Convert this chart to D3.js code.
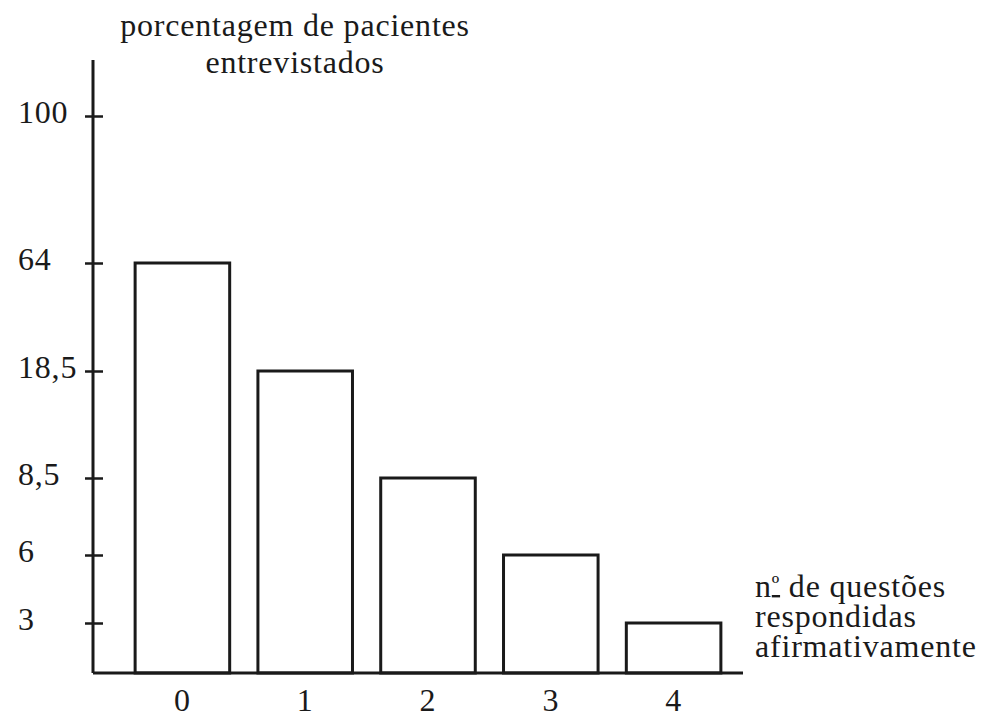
<!DOCTYPE html>
<html>
<head>
<meta charset="utf-8">
<script src="https://cdn.jsdelivr.net/npm/d3@7"></script>
<style>
  body { margin: 0; background: #fff; }
  svg text { font-family: "Liberation Serif", "DejaVu Serif", serif; fill: #1a1a1a; font-size: 32px; letter-spacing: 0.8px; }
</style>
</head>
<body>
<svg id="chart"></svg>
<script>
// dados
const categories = ["0", "1", "2", "3", "4"];
const percentages = [64, 18.5, 8.5, 6, 3];
const yTickValues = [3, 6, 8.5, 18.5, 64, 100];
const yTickLabels = ["3", "6", "8,5", "18,5", "64", "100"];
const yTitle = ["porcentagem de pacientes", "entrevistados"];
const xTitle = ["de questões", "respondidas", "afirmativamente"];

const width = 1001;
const height = 717;
const ink = "#1a1a1a";

const svg = d3.select("#chart")
    .attr("width", width)
    .attr("height", height);

const axisX = 93;      // posição do eixo vertical
const baseY = 673;     // linha de base
const axisTop = 60;

// escala y não linear (o original não está em escala)
const y = d3.scaleLinear()
    .domain([0, 3, 6, 8.5, 18.5, 64, 100])
    .range([baseY, 623, 555, 478, 371, 263, 116]);

const x = d3.scaleBand()
    .domain(categories)
    .range([121, 735])
    .paddingInner(0.23)
    .paddingOuter(0.115);

const data = categories.map((c, i) => ({ key: c, value: percentages[i] }));

// barras
svg.selectAll(".bar")
    .data(data)
    .enter()
    .append("rect")
    .attr("class", "bar")
    .attr("x", d => x(d.key))
    .attr("y", d => y(d.value))
    .attr("width", x.bandwidth())
    .attr("height", d => baseY - y(d.value))
    .attr("fill", "none")
    .attr("stroke", ink)
    .attr("stroke-width", 3);

// eixo y
const yAxis = svg.append("g")
    .attr("transform", `translate(${axisX},0)`)
    .call(d3.axisLeft(y)
        .tickValues(yTickValues)
        .tickSize(8)
        .tickFormat((d, i) => yTickLabels[i]));

yAxis.select(".domain").remove();
yAxis.selectAll(".tick line")
    .attr("x1", 10)
    .attr("x2", -8)
    .attr("stroke", ink)
    .attr("stroke-width", 2.5);
yAxis.selectAll(".tick text")
    .attr("x", 18 - axisX)
    .attr("dy", "0.2em")
    .attr("text-anchor", "start")
    .attr("font-size", null)
    .attr("font-family", null)
    .style("font-size", "32px")
    .style("font-family", "Liberation Serif, serif")
    .attr("fill", ink);

svg.append("line")
    .attr("x1", axisX).attr("x2", axisX)
    .attr("y1", axisTop).attr("y2", baseY)
    .attr("stroke", ink)
    .attr("stroke-width", 3);

// eixo x
svg.append("line")
    .attr("x1", axisX).attr("x2", 743)
    .attr("y1", baseY).attr("y2", baseY)
    .attr("stroke", ink)
    .attr("stroke-width", 3);

svg.selectAll(".xlabel")
    .data(categories)
    .enter()
    .append("text")
    .attr("class", "xlabel")
    .attr("x", d => x(d) + x.bandwidth() / 2)
    .attr("y", 711)
    .attr("text-anchor", "middle")
    .text(d => d);

// títulos
svg.append("text")
    .attr("x", 295)
    .attr("y", 36)
    .attr("text-anchor", "middle")
    .selectAll("tspan")
    .data(yTitle)
    .enter()
    .append("tspan")
    .attr("x", 295)
    .attr("dy", (d, i) => i === 0 ? 0 : 37)
    .text(d => d);

const xt = svg.append("text")
    .attr("x", 755)
    .attr("y", 597);

// "nº" com o sublinhado, como no original
xt.append("tspan").attr("x", 755).text("n");
xt.append("tspan")
    .style("font-size", "24px")
    .style("text-decoration", "underline")
    .attr("dy", -4)
    .text("º");
xt.append("tspan").attr("dy", 4).text(" " + xTitle[0]);

xt.selectAll(".line")
    .data(xTitle.slice(1))
    .enter()
    .append("tspan")
    .attr("class", "line")
    .attr("x", 755)
    .attr("dy", 30)
    .text(d => d);
</script>
</body>
</html>
